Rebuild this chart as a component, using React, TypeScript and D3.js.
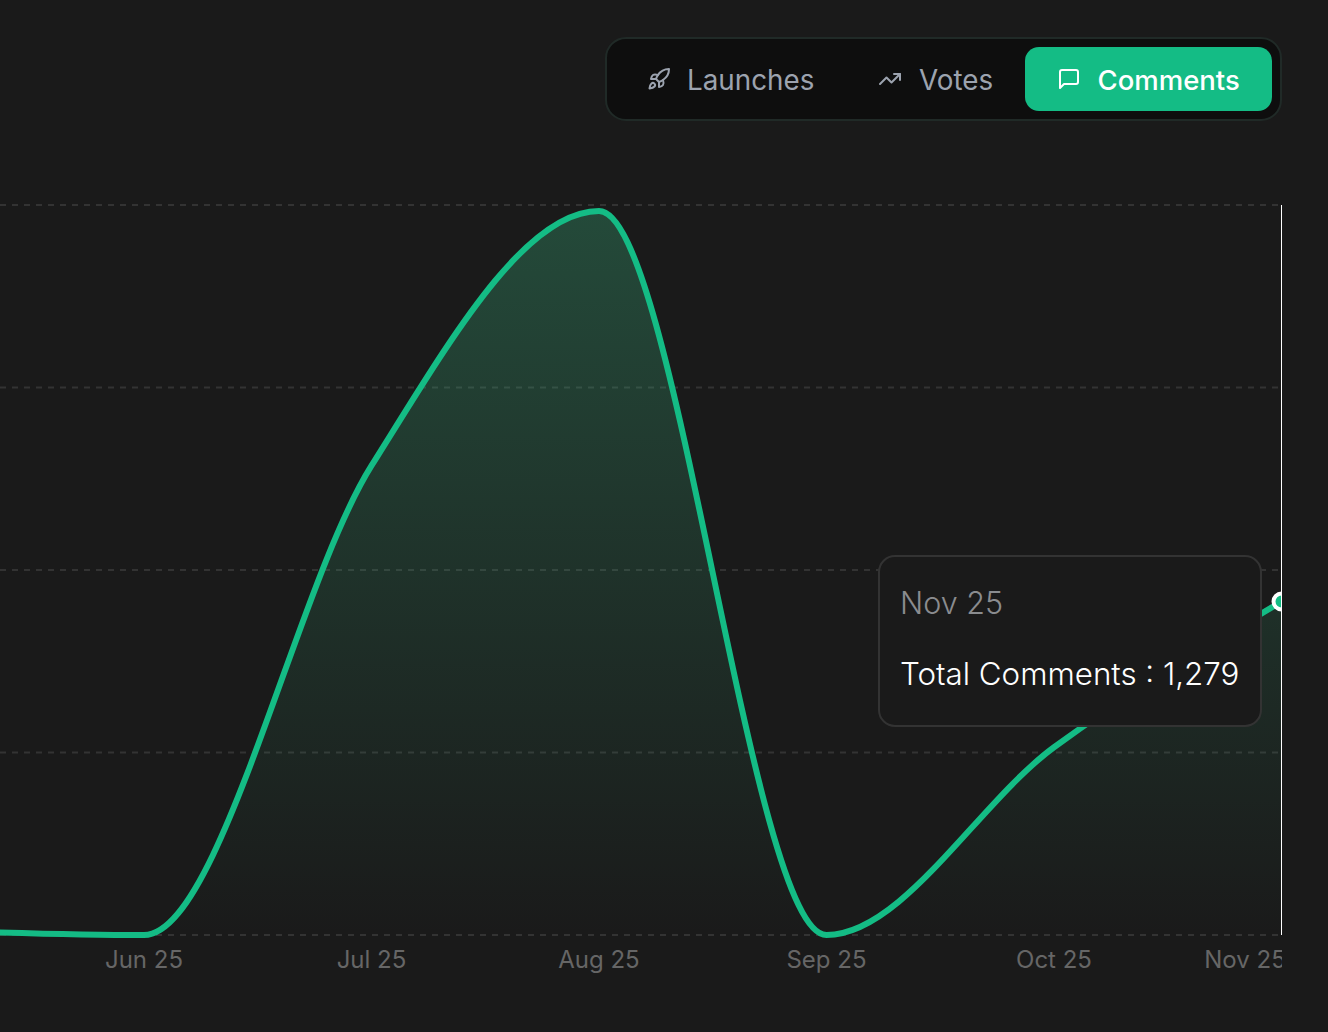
import * as d3 from "d3";

const months = ["May 25", "Jun 25", "Jul 25", "Aug 25", "Sep 25", "Oct 25", "Nov 25"];
const comments = [20, 0, 1800, 2777, 0, 720, 1279];
const yTicks = [0, 700, 1400, 2100, 2800];
const tabs = ["Launches", "Votes", "Comments"];

const font = "Inter, 'Noto Sans', sans-serif";
const green = "#14bc85";

const x = d3.scalePoint<string>().domain(months).range([-83.5, 1281.5]);
const y = d3.scaleLinear().domain([0, 2800]).range([935, 205]);

export default function App() {
  const points = months.map((m, i) => ({ m, v: comments[i] }));
  const line = d3
    .line<{ m: string; v: number }>()
    .x((d) => x(d.m) as number)
    .y((d) => y(d.v))
    .curve(d3.curveMonotoneX);
  const area = d3
    .area<{ m: string; v: number }>()
    .x((d) => x(d.m) as number)
    .y0(y(0))
    .y1((d) => y(d.v))
    .curve(d3.curveMonotoneX);
  const last = points[points.length - 1];

  return (
    <svg
      width={1328}
      height={1032}
      style={{ position: "absolute", left: 0, top: 0, background: "#1a1a1a", fontFamily: font }}
    >
      <defs>
        <linearGradient id="fill" x1="0" y1="0" x2="0" y2="1">
          <stop offset="0%" stopColor="#3bba84" stopOpacity={0.3} />
          <stop offset="100%" stopColor="#3bba84" stopOpacity={0} />
        </linearGradient>
        <clipPath id="plot">
          <rect x={0} y={190} width={1282} height={800} />
        </clipPath>
      </defs>

      {/* grid */}
      {yTicks.map((t) => (
        <line
          key={t}
          x1={0}
          x2={1281}
          y1={y(t)}
          y2={y(t)}
          stroke="#333"
          strokeWidth={2}
          strokeDasharray="6 6"
        />
      ))}

      <g clipPath="url(#plot)">
        <path d={area(points) ?? ""} fill="url(#fill)" />
        <path d={line(points) ?? ""} fill="none" stroke={green} strokeWidth={6} />
        {/* x axis, last label gets pushed inside like recharts does */}
        {months.slice(1).map((m) => (
          <text
            key={m}
            x={Math.min(x(m) as number, 1245)}
            y={968}
            fontSize={24}
            fill="#666"
            textAnchor="middle"
          >
            {m}
          </text>
        ))}
        {/* hover cursor */}
        <circle
          cx={x(last.m)}
          cy={y(last.v)}
          r={8}
          fill={green}
          stroke="#fff"
          strokeWidth={4}
        />
        <line x1={1281.5} x2={1281.5} y1={205} y2={935} stroke="#fff" strokeWidth={1} />
      </g>

      {/* tooltip */}
      <rect x={879} y={556} width={382} height={170} rx={16} fill="#1a1a1a" stroke="#333" strokeWidth={2} />
      <text x={900} y={613.5} fontSize={30.5} fontWeight={300} fill="#8a8c8f">
        {last.m}
      </text>
      <text x={900} y={685} fontSize={31.3} fontWeight={300} fill="#fff">
        Total Comments : {d3.format(",")(last.v)}
      </text>

      {/* tabs */}
      <rect x={606} y={38} width={675} height={82} rx={20} fill="#0e0e0e" stroke="#202a27" strokeWidth={2} />
      <rect x={1025} y={47} width={247} height={64} rx={14} fill={green} />

      <g transform="translate(647,67)" fill="none" stroke="#9ca3af" strokeWidth={2} strokeLinecap="round" strokeLinejoin="round">
        <path d="M4.5 16.5c-1.5 1.26-2 5-2 5s3.74-.5 5-2c.71-.84.7-2.13-.09-2.91a2.18 2.18 0 0 0-2.91-.09z" />
        <path d="m12 15-3-3a22 22 0 0 1 2-3.95A12.88 12.88 0 0 1 22 2c0 2.72-.78 7.5-6 11a22.35 22.35 0 0 1-4 2z" />
        <path d="M9 12H4s.55-3.03 2-4c1.62-1.08 5 0 5 0" />
        <path d="M12 15v5s3.03-.55 4-2c1.08-1.62 0-5 0-5" />
      </g>
      <text x={687} y={89.5} fontSize={27.8} fill="#9ca3af">
        {tabs[0]}
      </text>

      <g transform="translate(878,67)" fill="none" stroke="#9ca3af" strokeWidth={2} strokeLinecap="round" strokeLinejoin="round">
        <path d="M22 7 13.5 15.5 8.5 10.5 2 17" />
        <path d="M16 7h6v6" />
      </g>
      <text x={919} y={89.5} fontSize={27.8} fill="#9ca3af">
        {tabs[1]}
      </text>

      <g transform="translate(1057,67)" fill="none" stroke="#fff" strokeWidth={2} strokeLinecap="round" strokeLinejoin="round">
        <path d="M21 15a2 2 0 0 1-2 2H7l-4 4V5a2 2 0 0 1 2-2h14a2 2 0 0 1 2 2z" />
      </g>
      <text x={1097.5} y={89.5} fontSize={27.5} fontWeight={500} fill="#fff">
        {tabs[2]}
      </text>
    </svg>
  );
}
